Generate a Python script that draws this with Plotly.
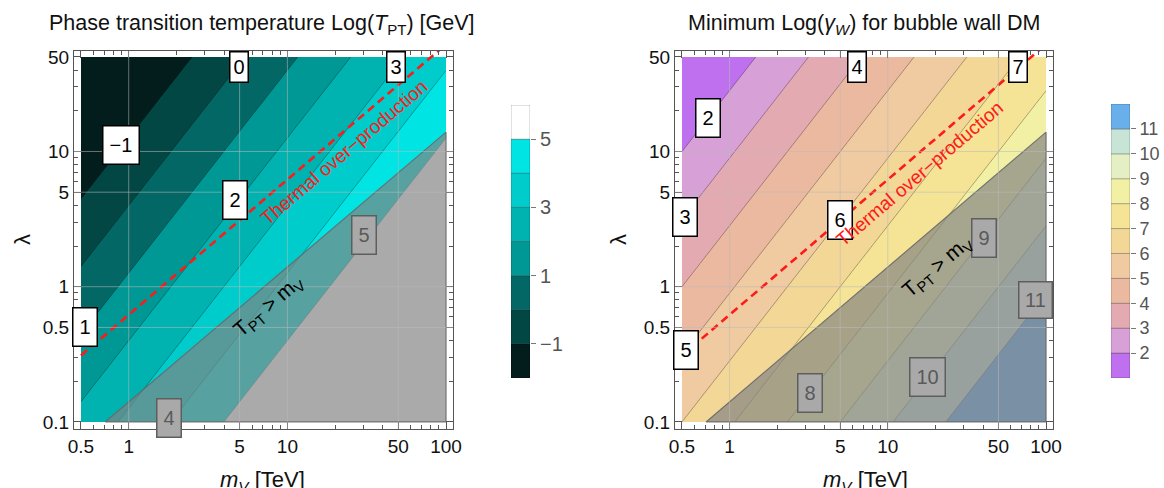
import numpy as np
import plotly.graph_objects as go

# ---------------- data ----------------
m_nodes = [0.5, 5, 100]        # m_V [TeV] grid nodes
lam_nodes = [0.1, 1, 50]       # lambda grid nodes
logT_grid = [[2.3, 5.3, 9.2],  # Log(T_PT) at (lambda row, m column)
             [0.3, 3.3, 7.2],
             [-3.1, -0.1, 3.8]]
logG_grid = [[6.0, 9.0, 12.9],  # minimum Log(gamma_W)
             [4.0, 7.0, 10.9],
             [0.6, 3.6, 7.5]]

T_start, T_end, T_step = -1, 5, 1
G_start, G_end, G_step = 2, 11, 1
T_colors = ["#031c1c", "#034745", "#036765", "#009894", "#00b2b0",
            "#00cccc", "#00e4e4", "#ffffff"]
G_colors = ["#be70ee", "#d7a0d7", "#e4aab2", "#ebb9a0", "#f0caa0",
            "#f3d796", "#f5e496", "#f2f0a5", "#e4f0c3", "#c8e4d7", "#69afeb"]
T_bar_edges = [-2, -1, 0, 1, 2, 3, 4, 5, 6]
G_bar_edges = [1, 2, 3, 4, 5, 6, 7, 8, 9, 10, 11, 12]
T_ticks = [-1, 1, 3, 5]
T_ticktext = ["\u22121", "1", "3", "5"]
G_ticks = [2, 3, 4, 5, 6, 7, 8, 9, 10, 11]

# excluded region T_PT > m_V
excl_m = [0.71, 100, 100, 0.71]
excl_lam = [0.1, 13.9, 0.1, 0.1]
# thermal over-production line
thermal_m = [0.5, 100]
thermal_lam = [0.31, 62]

# contour labels: text, m, lambda, style ("w" white, "g" gray), placement
T_labels = [("\u22121", 0.893, 11.2, "w", ""), ("0", 4.95, None, "w", "top"),
            ("1", 0.53, 0.50, "w", ""), ("2", 4.68, 4.38, "w", ""),
            ("3", 48.4, None, "w", "top"), ("4", 1.80, 0.107, "g", ""),
            ("5", 30.4, 2.41, "g", "")]
G_labels = [("2", 0.73, 17.7, "w", ""), ("3", 0.522, 3.28, "w", ""),
            ("4", 6.38, None, "w", "top"), ("5", 0.53, 0.34, "w", ""),
            ("6", 5.0, 3.11, "w", ""), ("7", 66.5, None, "w", "top"),
            ("8", 3.22, 0.164, "g", ""), ("9", 40.6, 2.29, "g", ""),
            ("10", 17.9, 0.215, "g", ""), ("11", None, 0.80, "g", "right")]

x_tickvals = [0.5, 1, 5, 10, 50, 100]
x_ticktext = ["0.5", "1", "5", "10", "50", "100"]
y_tickvals = [0.1, 0.5, 1, 5, 10, 50]
y_ticktext = ["0.1", "0.5", "1", "5", "10", "50"]
x_minor = [0.6, 0.7, 0.8, 0.9, 2, 3, 4, 6, 7, 8, 9, 20, 30, 40, 60, 70, 80, 90]
y_minor = [0.2, 0.3, 0.4, 0.6, 0.7, 0.8, 0.9, 2, 3, 4, 6, 7, 8, 9, 20, 30, 40]
grid_x = [1, 5, 10, 50]
grid_y = [0.5, 1, 5, 10]

# ---------------- layout geometry ----------------
W, H = 1164, 488
FONT = "Liberation Sans"
XR = [-0.345, 2.044]
YR = [-1.052, 1.743]


def px(x):
    return x / W


def py(y):
    return 1 - y / H


fig = go.Figure()

# contour panels
for grid, start, end, step, colors, xa, ya in [
        (logT_grid, T_start, T_end, T_step, T_colors, "x", "y"),
        (logG_grid, G_start, G_end, G_step, G_colors, "x2", "y2")]:
    nc = int(round((end - start) / step)) + 1
    cs = [[i / nc, c] for i, c in enumerate(colors)]
    fig.add_trace(go.Contour(
        x=m_nodes, y=lam_nodes, z=grid, autocontour=False,
        contours=dict(start=start, end=end, size=step, coloring="fill"),
        colorscale=cs, showscale=False,
        line=dict(width=0.6, color="rgba(0,0,0,0.5)"),
        hoverinfo="skip", xaxis=xa, yaxis=ya))
    fig.add_trace(go.Scatter(
        x=excl_m, y=excl_lam, mode="lines", fill="toself",
        fillcolor="rgba(129,129,129,0.68)",
        line=dict(color="rgba(105,105,105,0.9)", width=1.2),
        hoverinfo="skip", showlegend=False, xaxis=xa, yaxis=ya))
    fig.add_trace(go.Scatter(
        x=thermal_m, y=thermal_lam, mode="lines",
        line=dict(color="#ff1a1a", width=2.6, dash="8px,5px"),
        hoverinfo="skip", showlegend=False, xaxis=xa, yaxis=ya))

# colour bars
for edges, colors, xa, ya in [(T_bar_edges, T_colors, "x3", "y3"),
                               (G_bar_edges, G_colors, "x4", "y4")]:
    n = len(edges) - 1
    fig.add_trace(go.Bar(
        x=[0] * n, y=list(np.diff(edges)), base=edges[:-1], width=1,
        marker=dict(color=colors, line=dict(color="rgba(0,0,0,0.3)", width=0.8)),
        hoverinfo="skip", showlegend=False, xaxis=xa, yaxis=ya))

ax_common = dict(
    type="log", showgrid=False, zeroline=False, showline=True, automargin=False,
    linecolor="#555", linewidth=1, mirror="allticks", ticks="inside",
    ticklen=7, tickwidth=1, tickcolor="#555", tickmode="array",
    tickfont=dict(family=FONT, size=19, color="#111"))
minor_x = dict(ticks="inside", ticklen=4, tickcolor="#555", showgrid=False,
               tickmode="array", tickvals=x_minor)
minor_y = dict(ticks="inside", ticklen=4, tickcolor="#555", showgrid=False,
               tickmode="array", tickvals=y_minor)

xdom1 = [px(74), px(453)]
xdom2 = [px(675), px(1053)]
ydom = [py(429), py(51)]

cb_common = dict(side="right", showgrid=False, zeroline=False, showline=False,
                 automargin=False, ticks="outside", ticklen=5, tickcolor="#777",
                 tickmode="array")

fig.update_layout(
    width=W, height=H, margin=dict(l=0, r=0, t=0, b=0, autoexpand=False),
    paper_bgcolor="white", plot_bgcolor="white", showlegend=False,
    xaxis=dict(ax_common, domain=xdom1, range=XR, anchor="y",
               tickvals=x_tickvals, ticktext=x_ticktext, minor=minor_x),
    yaxis=dict(ax_common, domain=ydom, range=YR, anchor="x",
               tickvals=y_tickvals, ticktext=y_ticktext, minor=minor_y),
    xaxis2=dict(ax_common, domain=xdom2, range=XR, anchor="y2",
                tickvals=x_tickvals, ticktext=x_ticktext, minor=minor_x),
    yaxis2=dict(ax_common, domain=ydom, range=YR, anchor="x2",
                tickvals=y_tickvals, ticktext=y_ticktext, minor=minor_y),
    xaxis3=dict(domain=[px(511), px(530)], anchor="y3", visible=False,
                automargin=False, range=[-0.5, 0.5]),
    yaxis3=dict(cb_common, domain=[py(378), py(105)], anchor="x3",
                range=[T_bar_edges[0], T_bar_edges[-1]],
                tickvals=T_ticks, ticktext=T_ticktext,
                tickfont=dict(family=FONT, size=20, color="#555")),
    xaxis4=dict(domain=[px(1111), px(1130)], anchor="y4", visible=False,
                automargin=False, range=[-0.5, 0.5]),
    yaxis4=dict(cb_common, domain=[py(378), py(104)], anchor="x4",
                range=[G_bar_edges[0], G_bar_edges[-1]], tickvals=G_ticks,
                tickfont=dict(family=FONT, size=18, color="#555")),
)

# grid lines drawn over the fills (shape coordinates are data values)
shapes = []
for xa, ya in [("x", "y"), ("x2", "y2")]:
    for g in grid_x:
        shapes.append(dict(type="line", xref=xa, yref=ya + " domain",
                           x0=g, x1=g, y0=0, y1=1,
                           line=dict(color="rgba(185,185,185,0.55)", width=1),
                           layer="above"))
    for g in grid_y:
        shapes.append(dict(type="line", xref=xa + " domain", yref=ya,
                           x0=0, x1=1, y0=g, y1=g,
                           line=dict(color="rgba(185,185,185,0.55)", width=1),
                           layer="above"))
fig.update_layout(shapes=shapes)

ann = []
# contour labels
for labels, xa, ya in [(T_labels, "x", "y"), (G_labels, "x2", "y2")]:
    for txt, m, lam, style, place in labels:
        gray = style == "g"
        d = dict(text=txt, showarrow=False, xref=xa, yref=ya,
                 xanchor="center", yanchor="middle",
                 font=dict(family=FONT, size=20,
                           color="#5a5a5a" if gray else "#000"),
                 bgcolor="#a9a9a9" if gray else "#ffffff",
                 bordercolor="#5e5e5e" if gray else "#000",
                 borderwidth=1.5, borderpad=6, height=25)
        if place == "top":
            d.update(x=np.log10(m), y=YR[1], yanchor="top", height=23,
                     borderpad=3)
        elif place == "right":
            d.update(x=XR[1], y=np.log10(lam), xanchor="right", width=22,
                     borderpad=5)
        else:
            d.update(x=np.log10(m), y=np.log10(lam))
        ann.append(d)

ang = -np.degrees(np.arctan((135.2) / (158.6)))
for xa, ya, tm, tl, gm, gl in [("x", "y", 22.7, 9.87, 7.65, 0.72),
                               ("x2", "y2", 16.0, 6.83, 20.5, 1.40)]:
    ann.append(dict(text="Thermal over\u2212production", showarrow=False,
                    xref=xa, yref=ya, x=np.log10(tm), y=np.log10(tl),
                    xanchor="center", yanchor="middle",
                    textangle=ang, font=dict(family=FONT, size=19, color="#ff1a1a")))
    ann.append(dict(text="T<sub>PT</sub> &gt; m<sub>V</sub>", showarrow=False,
                    xref=xa, yref=ya, x=np.log10(gm), y=np.log10(gl),
                    xanchor="center", yanchor="middle",
                    textangle=ang, font=dict(family=FONT, size=21, color="#000")))


def paper_text(text, x, y, size, angle=0):
    return dict(text=text, xref="paper", yref="paper", x=px(x), y=py(y),
                xanchor="center", yanchor="middle", showarrow=False,
                textangle=angle, font=dict(family=FONT, size=size, color="#111"))


ann += [
    paper_text("Phase transition temperature Log(<i>T</i><sub>PT</sub>) [GeV]",
               262, 24, 21.5),
    paper_text("Minimum Log(<i>\u03b3</i><sub><i>W</i></sub>) for bubble wall DM",
               864, 24, 21.5),
    paper_text("\u03bb", 22, 240, 22, -90),
    paper_text("\u03bb", 618, 240, 22, -90),
    paper_text("<i>m</i><sub><i>V</i></sub> [TeV]", 262, 481, 22),
    paper_text("<i>m</i><sub><i>V</i></sub> [TeV]", 865, 481, 22),
]
fig.update_layout(annotations=ann)

fig.write_html("out.html", config={"displayModeBar": False},
               post_script="document.body.style.margin='0';"
                           "document.body.style.overflow='hidden';")
